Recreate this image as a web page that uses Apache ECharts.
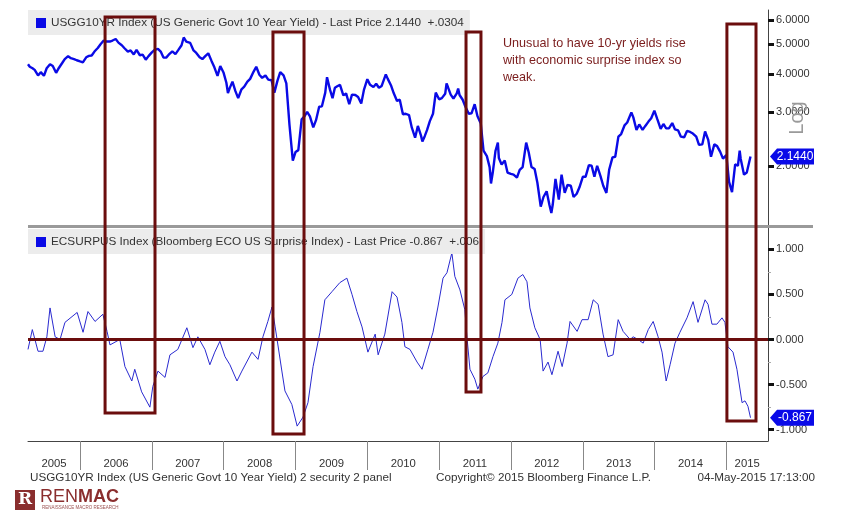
<!DOCTYPE html>
<html><head><meta charset="utf-8">
<script src="https://cdn.jsdelivr.net/npm/echarts@6/dist/echarts.min.js"></script>
<style>html,body{margin:0;padding:0;background:#fff;}#c{width:847px;height:530px;}</style>
</head><body><div id="c"></div>
<script>
// ---------------- DATA ----------------
const yieldDates = ['2005-04-11','2005-04-20','2005-05-04','2005-05-15','2005-06-01','2005-06-15','2005-07-01','2005-07-15','2005-08-01','2005-08-15','2005-09-01','2005-09-15','2005-10-01','2005-10-15','2005-11-01','2005-11-15','2005-12-01','2005-12-15',
'2006-01-01','2006-01-15','2006-02-01','2006-02-15','2006-03-01','2006-03-15','2006-04-01','2006-04-15','2006-05-01','2006-05-15','2006-06-01','2006-06-15','2006-07-01','2006-07-15','2006-08-01','2006-08-15','2006-09-01','2006-09-15','2006-10-01','2006-10-15','2006-11-01','2006-11-15','2006-12-01','2006-12-15',
'2007-01-01','2007-01-15','2007-02-01','2007-02-15','2007-03-01','2007-03-15','2007-04-01','2007-04-15','2007-05-01','2007-05-15','2007-06-01','2007-06-12','2007-06-25','2007-07-05','2007-07-15','2007-08-01','2007-08-15','2007-09-01','2007-09-15','2007-10-01','2007-10-15','2007-11-01','2007-11-15','2007-12-01','2007-12-15',
'2008-01-01','2008-01-15','2008-01-23','2008-02-01','2008-02-15','2008-03-01','2008-03-15','2008-04-01','2008-04-15','2008-05-01','2008-05-15','2008-06-01','2008-06-15','2008-07-01','2008-07-15','2008-08-01','2008-08-15','2008-09-01','2008-09-15','2008-10-01','2008-10-15','2008-11-01','2008-11-15','2008-12-01','2008-12-18',
'2009-01-01','2009-01-15','2009-02-01','2009-02-15','2009-03-01','2009-03-15','2009-04-01','2009-04-15','2009-05-01','2009-05-15','2009-06-01','2009-06-10','2009-06-25','2009-07-08','2009-07-20','2009-08-01','2009-08-15','2009-09-01','2009-09-15','2009-10-01','2009-10-15','2009-11-01','2009-11-15','2009-12-01','2009-12-15',
'2010-01-01','2010-01-15','2010-02-01','2010-02-15','2010-03-01','2010-03-15','2010-04-05','2010-04-15','2010-05-01','2010-05-15','2010-06-01','2010-06-15','2010-07-01','2010-07-15','2010-08-01','2010-08-15','2010-09-01','2010-09-15','2010-10-01','2010-10-08','2010-10-20','2010-11-01','2010-11-15','2010-12-01','2010-12-15',
'2011-01-01','2011-01-15','2011-02-01','2011-02-08','2011-02-15','2011-03-01','2011-03-15','2011-04-01','2011-04-08','2011-04-15','2011-05-01','2011-05-15','2011-06-01','2011-06-15','2011-07-01','2011-07-15','2011-08-01','2011-08-15','2011-09-01','2011-09-15','2011-09-22','2011-10-01','2011-10-15','2011-10-27','2011-11-01','2011-11-15','2011-12-01','2011-12-15',
'2012-01-01','2012-01-15','2012-02-01','2012-02-15','2012-03-01','2012-03-19','2012-04-01','2012-04-15','2012-05-01','2012-05-15','2012-06-01','2012-06-15','2012-07-01','2012-07-15','2012-07-25','2012-08-01','2012-08-15','2012-09-01','2012-09-15','2012-10-01','2012-10-15','2012-11-01','2012-11-15','2012-12-01','2012-12-15',
'2013-01-01','2013-01-15','2013-02-01','2013-02-15','2013-03-01','2013-03-15','2013-04-01','2013-04-15','2013-05-01','2013-05-15','2013-06-01','2013-06-15','2013-07-01','2013-07-15','2013-08-01','2013-08-15','2013-09-05','2013-09-15','2013-10-01','2013-10-15','2013-11-01','2013-11-15','2013-12-01','2013-12-15','2013-12-31',
'2014-01-15','2014-02-01','2014-02-15','2014-03-01','2014-03-15','2014-04-01','2014-04-15','2014-05-01','2014-05-15','2014-06-01','2014-06-15','2014-07-01','2014-07-15','2014-08-01','2014-08-15','2014-09-01','2014-09-15','2014-10-01','2014-10-15','2014-11-01','2014-11-15','2014-12-01','2014-12-15',
'2015-01-01','2015-01-15','2015-01-30','2015-02-15','2015-03-01','2015-03-10','2015-03-15','2015-04-01','2015-04-15','2015-04-25','2015-05-04'];
const yieldValues = [4.30,4.22,4.17,4.12,3.95,4.05,3.94,4.17,4.30,4.24,4.03,4.18,4.33,4.47,4.57,4.50,4.47,4.43,
4.39,4.36,4.53,4.58,4.59,4.73,4.86,5.00,5.14,5.10,5.10,5.14,5.20,5.06,4.96,4.85,4.73,4.77,4.63,4.79,4.60,4.62,4.45,4.57,
4.70,4.79,4.83,4.73,4.52,4.52,4.65,4.74,4.64,4.78,4.96,5.26,5.10,5.15,5.05,4.77,4.68,4.53,4.47,4.58,4.67,4.40,4.20,3.94,4.24,
4.03,3.74,3.46,3.59,3.77,3.51,3.33,3.56,3.63,3.77,3.85,4.06,4.22,3.97,3.88,3.95,3.83,3.81,3.47,3.80,4.05,3.95,3.72,2.72,2.08,
2.22,2.25,2.84,2.90,3.00,2.90,2.67,2.82,3.12,3.13,3.47,3.90,3.55,3.33,3.60,3.64,3.68,3.40,3.45,3.18,3.42,3.41,3.36,3.20,3.55,
3.84,3.68,3.62,3.71,3.60,3.65,3.98,3.85,3.67,3.46,3.26,3.29,2.95,2.96,2.93,2.67,2.47,2.70,2.51,2.40,2.50,2.62,2.80,2.96,3.47,
3.30,3.33,3.44,3.72,3.62,3.42,3.32,3.45,3.58,3.41,3.29,3.12,2.96,2.97,3.18,2.91,2.75,2.24,2.15,1.98,1.75,1.90,2.24,2.38,2.12,2.02,2.08,1.90,
1.88,1.87,1.83,1.94,1.98,2.38,2.21,1.98,1.95,1.76,1.47,1.58,1.65,1.49,1.40,1.49,1.81,1.55,1.87,1.63,1.73,1.72,1.58,1.62,1.70,
1.84,1.84,2.01,2.00,1.84,2.00,1.85,1.72,1.63,1.94,2.13,2.14,2.49,2.54,2.71,2.77,2.99,2.88,2.62,2.73,2.62,2.70,2.79,2.86,3.03,
2.84,2.64,2.74,2.65,2.65,2.76,2.63,2.61,2.49,2.48,2.60,2.58,2.55,2.49,2.34,2.35,2.59,2.43,2.14,2.35,2.32,2.22,2.11,
2.17,1.77,1.64,2.02,2.00,2.24,2.11,1.87,1.90,1.92,2.144];

const surpriseDates = ['2005-04-11','2005-05-03','2005-06-01','2005-06-26','2005-07-16','2005-08-01','2005-08-27','2005-09-21','2005-10-16','2005-12-17',
'2006-01-16','2006-02-10','2006-03-18','2006-04-27','2006-05-18','2006-06-02','2006-07-22','2006-08-17','2006-09-21','2006-10-06','2006-11-10','2006-12-22',
'2007-01-06','2007-02-01','2007-03-09','2007-04-03','2007-05-13','2007-06-28','2007-07-29','2007-08-23','2007-09-28','2007-10-23','2007-11-17','2007-12-13',
'2008-01-08','2008-02-02','2008-03-09','2008-04-03','2008-05-24','2008-06-24','2008-07-19','2008-08-13','2008-09-03','2008-09-19','2008-09-29','2008-10-24','2008-11-08','2008-12-13',
'2009-01-09','2009-02-08','2009-03-05','2009-03-31','2009-05-05','2009-05-30','2009-07-05','2009-08-14','2009-09-19','2009-10-15','2009-11-09','2009-12-05',
'2010-01-04','2010-02-10','2010-02-25','2010-03-31','2010-05-07','2010-06-01','2010-06-26','2010-07-11','2010-08-06','2010-09-11','2010-10-06','2010-11-05','2010-12-01','2010-12-26',
'2011-01-21','2011-02-10','2011-03-07','2011-03-22','2011-04-17','2011-05-12','2011-05-23','2011-06-07','2011-07-02','2011-07-17','2011-08-12','2011-09-06','2011-10-02','2011-10-27','2011-11-17','2011-12-02',
'2012-01-06','2012-02-06','2012-03-02','2012-03-23','2012-04-07','2012-05-02','2012-05-29','2012-06-13','2012-07-08','2012-07-28','2012-08-28','2012-09-18','2012-10-13','2012-10-28','2012-12-03','2012-12-28',
'2013-01-28','2013-02-23','2013-03-20','2013-04-14','2013-05-09','2013-06-04','2013-06-30','2013-07-25','2013-08-30','2013-09-14','2013-10-09','2013-11-04','2013-11-30','2013-12-25',
'2014-01-19','2014-02-08','2014-03-01','2014-03-21','2014-04-15','2014-05-10','2014-06-15','2014-07-16','2014-08-10','2014-09-15','2014-09-30','2014-10-20','2014-11-14','2014-12-10','2014-12-25',
'2015-01-09','2015-02-04','2015-02-24','2015-03-22','2015-04-06','2015-04-21','2015-05-04'];
const surpriseValues = [-0.11,0.11,-0.13,-0.13,0.03,0.35,0.03,0.00,0.19,0.30,
0.08,0.31,0.20,0.28,0.09,-0.06,0.00,-0.30,-0.46,-0.33,-0.58,-0.75,
-0.52,-0.35,-0.42,-0.17,-0.11,0.13,-0.09,0.03,-0.11,-0.28,-0.14,-0.02,
-0.19,-0.28,-0.46,-0.35,-0.14,-0.22,0.03,0.20,0.36,0.14,0.00,-0.36,-0.57,-0.72,
-0.96,-0.86,-0.70,-0.30,0.08,0.44,0.53,0.63,0.68,0.50,0.31,0.14,
-0.14,0.06,-0.17,0.06,0.53,0.47,0.19,-0.08,-0.11,-0.25,-0.33,-0.11,0.08,0.36,
0.68,0.74,0.96,0.70,0.55,0.33,0.02,-0.33,-0.44,-0.55,-0.41,-0.37,-0.19,-0.04,0.19,0.44,
0.50,0.68,0.72,0.64,0.35,0.13,0.00,-0.35,-0.25,-0.39,-0.13,-0.30,-0.04,0.20,0.09,0.22,
0.22,0.44,0.39,0.06,-0.19,-0.17,0.22,0.09,0.00,0.03,0.00,-0.04,0.11,0.20,
0.03,-0.14,-0.46,-0.28,-0.04,0.08,0.24,0.42,0.19,0.44,0.39,0.17,0.17,0.24,0.19,
-0.08,-0.14,-0.33,-0.70,-0.68,-0.74,-0.867];

const yieldTicks = [2, 3, 4, 5, 6];
const surpriseTicks = [-1, -0.5, 0, 0.5, 1];
const surpriseMinorTicks = [-0.75, -0.25, 0.25, 0.75];
const years = [2005, 2006, 2007, 2008, 2009, 2010, 2011, 2012, 2013, 2014, 2015];
// highlight boxes: date span, top (yield) and bottom (surprise)
const boxStarts  = ['2006-05-08', '2008-09-08', '2011-05-18', '2015-01-04'];
const boxEnds    = ['2007-01-17', '2009-02-13', '2011-08-02', '2015-06-01'];
const boxTops    = [6.14, 5.48, 5.48, 5.82];
const boxBottoms = [-0.815, -1.048, -0.582, -0.904];

const yieldLegend = 'USGG10YR Index (US Generic Govt 10 Year Yield) - Last Price 2.1440  +.0304';
const surpriseLegend = 'ECSURPUS Index (Bloomberg ECO US Surprise Index) - Last Price -0.867  +.006';
const note = ['Unusual to have 10-yr yields rise', 'with economic surprise index so', 'weak.'];

// ---------------- CHART ----------------
function ts(s) { const p = s.split('-').map(Number); return new Date(p[0], p[1] - 1, p[2]).getTime(); }
const axisMin = ts('2005-04-11'), axisMax = ts('2015-08-01');
const yMin = 1.27, yMax = 6.47;
const sMin = -1.125, sMax = 1.236;
const yearStarts = years.slice(1).map(y => new Date(y, 0, 1).getTime());
const yearMids = years.map(y => {
  const a = Math.max(new Date(y, 0, 1).getTime(), axisMin);
  const b = Math.min(new Date(y + 1, 0, 1).getTime(), axisMax);
  return (a + b) / 2;
});
const FONT = 'Liberation Sans';
const TXT = '#333';
const MAROON = '#6b0d0d';

const chart = echarts.init(document.getElementById('c'));
const option = {
  animation: false,
  backgroundColor: '#fff',
  textStyle: { fontFamily: FONT },
  grid: [
    { left: 28, right: 79, top: 10, height: 216 },
    { left: 28, right: 79, top: 228, height: 213 }
  ],
  legend: [
    { data: ['USGG10YR'], left: 28, top: 10, icon: 'rect', itemWidth: 10, itemHeight: 10, itemGap: 4,
      selectedMode: false, backgroundColor: '#ececec', padding: [7, 6, 6, 8],
      formatter: () => yieldLegend, textStyle: { fontSize: 11.75, color: TXT, fontFamily: FONT } },
    { data: ['ECSURPUS'], left: 28, top: 229, icon: 'rect', itemWidth: 10, itemHeight: 10, itemGap: 4,
      selectedMode: false, backgroundColor: '#ececec', padding: [7, 6, 6, 8],
      formatter: () => surpriseLegend, textStyle: { fontSize: 11.75, color: TXT, fontFamily: FONT } }
  ],
  xAxis: [
    { type: 'value', gridIndex: 0, min: axisMin, max: axisMax, show: false },
    { type: 'value', gridIndex: 1, min: axisMin, max: axisMax,
      axisLine: { onZero: false, lineStyle: { color: '#444', width: 1 } },
      axisTick: { show: true, customValues: yearStarts, length: 29, lineStyle: { color: '#888', width: 1 } },
      axisLabel: { customValues: yearMids, formatter: v => String(new Date(v).getFullYear()),
        color: TXT, fontSize: 11.3, fontFamily: FONT, margin: 17, hideOverlap: false },
      splitLine: { show: false } }
  ],
  yAxis: [
    { type: 'log', gridIndex: 0, min: yMin, max: yMax, show: false, position: 'right' },
    { type: 'value', gridIndex: 0, position: 'right', min: Math.log10(yMin), max: Math.log10(yMax),
      axisLine: { show: true, onZero: false, lineStyle: { color: '#444' } },
      axisTick: { show: true, customValues: yieldTicks.map(Math.log10), length: 6, lineStyle: { color: '#111', width: 3 } },
      axisLabel: { customValues: yieldTicks.map(Math.log10), formatter: v => Math.pow(10, v).toFixed(4),
        color: TXT, fontSize: 11, fontFamily: FONT, margin: 8 },
      splitLine: { show: false } },
    { type: 'value', gridIndex: 1, position: 'right', min: sMin, max: sMax,
      axisLine: { show: true, onZero: false, lineStyle: { color: '#444' } },
      axisTick: { show: true, customValues: surpriseTicks, length: 6, lineStyle: { color: '#111', width: 3 } },
      axisLabel: { customValues: surpriseTicks, formatter: v => v.toFixed(3),
        color: TXT, fontSize: 11, fontFamily: FONT, margin: 8 },
      splitLine: { show: false } },
    { type: 'value', gridIndex: 1, position: 'right', min: sMin, max: sMax,
      axisLine: { show: false, onZero: false },
      axisTick: { show: true, customValues: surpriseMinorTicks, length: 3, lineStyle: { color: '#aaa', width: 1 } },
      axisLabel: { show: false }, splitLine: { show: false } }
  ],
  series: [
    { name: 'USGG10YR', type: 'line', xAxisIndex: 0, yAxisIndex: 0, showSymbol: false, symbol: 'none',
      color: '#0a0ae6', lineStyle: { color: '#0a0ae6', width: 2.4 },
      data: yieldDates.map((d, i) => [ts(d), yieldValues[i]]) },
    { name: 'ECSURPUS', type: 'line', xAxisIndex: 1, yAxisIndex: 2, showSymbol: false, symbol: 'none',
      color: '#0a0ae6', lineStyle: { color: '#2a2ad0', width: 1 },
      data: surpriseDates.map((d, i) => [ts(d), surpriseValues[i]]),
      markLine: { silent: true, symbol: 'none', label: { show: false }, z: 10,
        lineStyle: { color: MAROON, width: 3, type: 'solid' }, data: [{ yAxis: 0 }] } }
  ]
};
chart.setOption(option);

// ---------------- ANNOTATIONS ----------------
const g = [];
g.push({ type: 'rect', shape: { x: 28, y: 225, width: 785, height: 3 }, style: { fill: '#9a9a9a' }, z: 50 });
for (let i = 0; i < boxStarts.length; i++) {
  const x0 = chart.convertToPixel({ xAxisIndex: 0 }, ts(boxStarts[i]));
  const x1 = chart.convertToPixel({ xAxisIndex: 0 }, ts(boxEnds[i]));
  const y0 = chart.convertToPixel({ yAxisIndex: 0 }, boxTops[i]);
  const y1 = chart.convertToPixel({ yAxisIndex: 2 }, boxBottoms[i]);
  g.push({ type: 'rect', shape: { x: x0, y: y0, width: x1 - x0, height: y1 - y0 },
    style: { fill: 'none', stroke: MAROON, lineWidth: 3 }, z: 100 });
}
note.forEach((t, i) => g.push({ type: 'text', left: 503, top: 37 + i * 17, z: 100,
  style: { text: t, fill: '#7a1c1c', font: '12.6px "' + FONT + '"' } }));
function tag(yPix, text) {
  g.push({ type: 'polygon', z: 110, shape: { points: [[770, yPix], [777, yPix - 8], [814, yPix - 8], [814, yPix + 8], [777, yPix + 8]] },
    style: { fill: '#0a0ae8' } });
  g.push({ type: 'text', z: 111, x: 795, y: yPix, style: { text: text, fill: '#fff', font: '12px "' + FONT + '"', align: 'center', verticalAlign: 'middle' } });
}
tag(chart.convertToPixel({ yAxisIndex: 0 }, yieldValues[yieldValues.length - 1]), yieldValues[yieldValues.length - 1].toFixed(4));
tag(chart.convertToPixel({ yAxisIndex: 2 }, surpriseValues[surpriseValues.length - 1]), surpriseValues[surpriseValues.length - 1].toFixed(3));
g.push({ type: 'text', x: 797, y: 118, rotation: Math.PI / 2, z: 60,
  style: { text: 'Log', fill: '#9a9a9a', font: '20px "' + FONT + '"', align: 'center', verticalAlign: 'middle' } });
const ff = '11.7px "' + FONT + '"';
g.push({ type: 'text', x: 30, y: 478, style: { text: 'USGG10YR Index (US Generic Govt 10 Year Yield) 2 security 2 panel', fill: TXT, font: ff, verticalAlign: 'middle' } });
g.push({ type: 'text', x: 436, y: 478, style: { text: 'Copyright\u00a9 2015 Bloomberg Finance L.P.', fill: TXT, font: ff, verticalAlign: 'middle' } });
g.push({ type: 'text', x: 815, y: 478, style: { text: '04-May-2015 17:13:00', fill: TXT, font: ff, align: 'right', verticalAlign: 'middle' } });
g.push({ type: 'rect', shape: { x: 15, y: 490, width: 20, height: 20 }, style: { fill: '#8a2e2e' } });
g.push({ type: 'text', x: 25, y: 500, style: { text: 'R', fill: '#fff', font: 'bold 17px "DejaVu Serif"', align: 'center', verticalAlign: 'middle' } });
g.push({ type: 'text', x: 40, y: 497, style: { text: '{a|REN}{b|MAC}', verticalAlign: 'middle',
  rich: { a: { fill: '#8a2e2e', font: '18px "' + FONT + '"' }, b: { fill: '#8a2e2e', font: 'bold 18px "' + FONT + '"' } } } });
g.push({ type: 'text', x: 42, y: 508, style: { text: 'RENAISSANCE MACRO RESEARCH', fill: '#9a5050', font: '4.5px "' + FONT + '"', verticalAlign: 'middle' } });
chart.setOption({ graphic: g });
</script>
</body></html>
